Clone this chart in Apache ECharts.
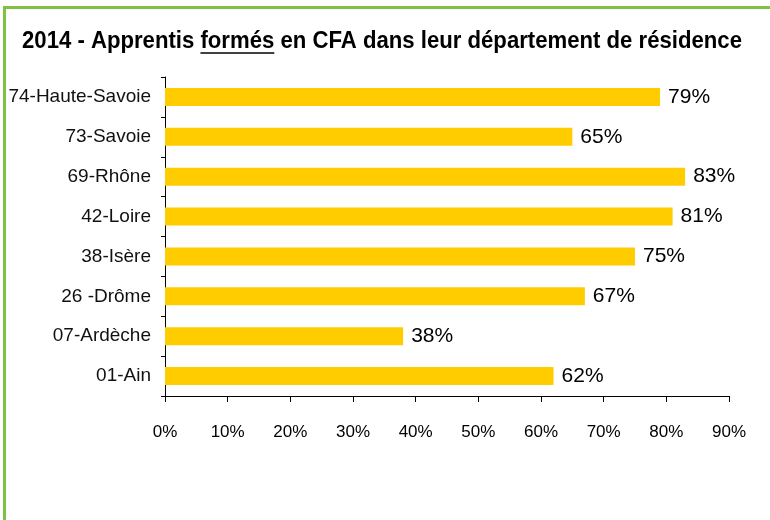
<!DOCTYPE html>
<html lang="fr">
<head>
    <meta charset="UTF-8">
    <title>Apprentis formés en CFA</title>
    <script src="https://cdn.jsdelivr.net/npm/echarts@6/dist/echarts.min.js"></script>
    <style>
        html, body { margin: 0; padding: 0; background: #fff; }
        #main { width: 770px; height: 520px; }
    </style>
</head>
<body>
<div id="main"></div>
<script>
    // données (ordre de bas en haut)
    var departements = ['01-Ain', '07-Ardèche', '26 -Drôme', '38-Isère', '42-Loire', '69-Rhône', '73-Savoie', '74-Haute-Savoie'];
    var partFormes = [62, 38, 67, 75, 81, 83, 65, 79];
    var ticksPct = [0, 10, 20, 30, 40, 50, 60, 70, 80, 90];

    var titrePre = '2014 - Apprentis ';
    var titreMot = 'formés';
    var titrePost = ' en CFA dans leur département de résidence';

    var titreFont = 'bold 23px "Liberation Sans", Arial, sans-serif';
    var titreX = 382, titreY = 42, titreLarg = 720;

    // mesure du texte pour le resserrer et placer le soulignement de "formés"
    var ctx = document.createElement('canvas').getContext('2d');
    ctx.font = titreFont;
    var wTotal = ctx.measureText(titrePre + titreMot + titrePost).width;
    var sx = titreLarg / wTotal;
    var wPre = ctx.measureText(titrePre).width * sx;
    var wMot = ctx.measureText(titreMot).width * sx;
    var x0 = titreX - titreLarg / 2 + wPre;

    var chart = echarts.init(document.getElementById('main'));
    var option = {
        animation: false,
        graphic: [
            {
                // cadre vert (le bord droit et le bas sont hors image)
                type: 'rect',
                shape: {x: 4.5, y: 7.5, width: 800, height: 600},
                style: {fill: 'none', stroke: '#7dc242', lineWidth: 3},
                silent: true
            },
            {
                type: 'text',
                x: titreX,
                y: titreY,
                scaleX: sx,
                style: {
                    text: titrePre + titreMot + titrePost,
                    font: titreFont,
                    fill: '#000',
                    align: 'center',
                    verticalAlign: 'middle'
                }
            },
            {
                type: 'line',
                shape: {x1: x0, y1: 53, x2: x0 + wMot, y2: 53},
                style: {stroke: '#000', lineWidth: 1.5}
            }
        ],
        grid: {left: 165, top: 77, width: 564, height: 319, containLabel: false},
        xAxis: {
            type: 'value',
            min: 0,
            max: 90,
            interval: 10,
            splitLine: {show: false},
            axisLine: {show: true, lineStyle: {color: '#000', width: 1}},
            axisTick: {show: true, length: 6, lineStyle: {color: '#000'}},
            axisLabel: {
                margin: 28,
                color: '#000',
                fontSize: 17,
                fontFamily: '"Liberation Sans", Arial, sans-serif',
                formatter: function (v) {
                    return ticksPct.indexOf(v) >= 0 ? v + '%' : '';
                }
            }
        },
        yAxis: {
            type: 'category',
            data: departements,
            axisLine: {show: true, lineStyle: {color: '#000', width: 1}},
            axisTick: {show: true, length: 4, lineStyle: {color: '#000'}},
            axisLabel: {
                margin: 14,
                color: '#111',
                fontSize: 19,
                fontFamily: '"Liberation Sans", Arial, sans-serif'
            }
        },
        series: [{
            type: 'bar',
            data: partFormes,
            barWidth: '45%',
            itemStyle: {color: '#ffcc00'},
            label: {
                show: true,
                position: 'right',
                distance: 8,
                color: '#000',
                fontSize: 21,
                fontFamily: '"Liberation Sans", Arial, sans-serif',
                formatter: '{c}%'
            }
        }]
    };
    chart.setOption(option);
</script>
</body>
</html>
